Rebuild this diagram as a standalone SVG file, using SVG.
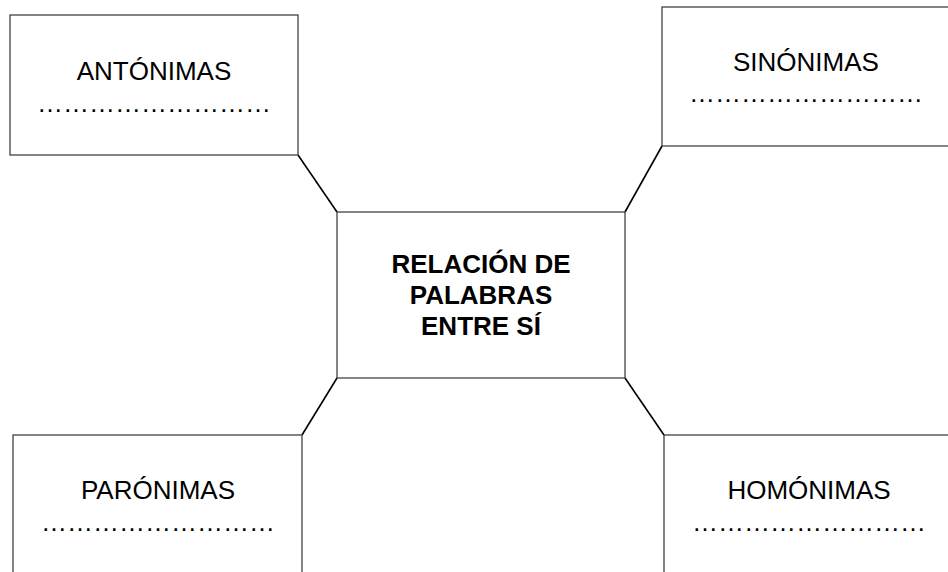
<svg xmlns="http://www.w3.org/2000/svg" width="948" height="572" viewBox="0 0 948 572">
<style>
.box{fill:#fff;stroke:#333;stroke-width:1.2}
.lbl{font-family:"Liberation Sans",Arial,sans-serif;font-size:26px;fill:#000;text-anchor:middle}
.dots{font-family:"Liberation Sans",Arial,sans-serif;font-size:26px;fill:#000;text-anchor:middle}
.ctr{font-family:"Liberation Sans",Arial,sans-serif;font-size:26px;font-weight:bold;fill:#000;text-anchor:middle}
.con{stroke:#000;stroke-width:1.6;fill:none}
</style>
<rect width="948" height="572" fill="#fff"/>
<g id="connectors">
<line class="con" x1="298" y1="155" x2="337" y2="212"/>
<line class="con" x1="662" y1="146" x2="625" y2="212"/>
<line class="con" x1="337" y1="378" x2="302" y2="435"/>
<line class="con" x1="625" y1="378" x2="664" y2="435"/>
</g>
<g id="antonimas">
<rect class="box" x="10" y="15" width="288" height="140"/>
<text class="lbl" x="154" y="80">ANTÓNIMAS</text>
<text class="dots" x="154" y="112">………………………</text>
</g>
<g id="sinonimas">
<rect class="box" x="662" y="7" width="290" height="139"/>
<text class="lbl" x="806" y="71">SINÓNIMAS</text>
<text class="dots" x="806" y="102">………………………</text>
</g>
<g id="centro">
<rect class="box" x="337" y="212" width="288" height="166"/>
<text class="ctr" x="481" y="273">RELACIÓN DE</text>
<text class="ctr" x="481" y="304">PALABRAS</text>
<text class="ctr" x="481" y="335">ENTRE SÍ</text>
</g>
<g id="paronimas">
<rect class="box" x="13" y="435" width="289" height="150"/>
<text class="lbl" x="158" y="499">PARÓNIMAS</text>
<text class="dots" x="158" y="531">………………………</text>
</g>
<g id="homonimas">
<rect class="box" x="664" y="435" width="300" height="150"/>
<text class="lbl" x="809" y="499">HOMÓNIMAS</text>
<text class="dots" x="809" y="531">………………………</text>
</g>
</svg>
